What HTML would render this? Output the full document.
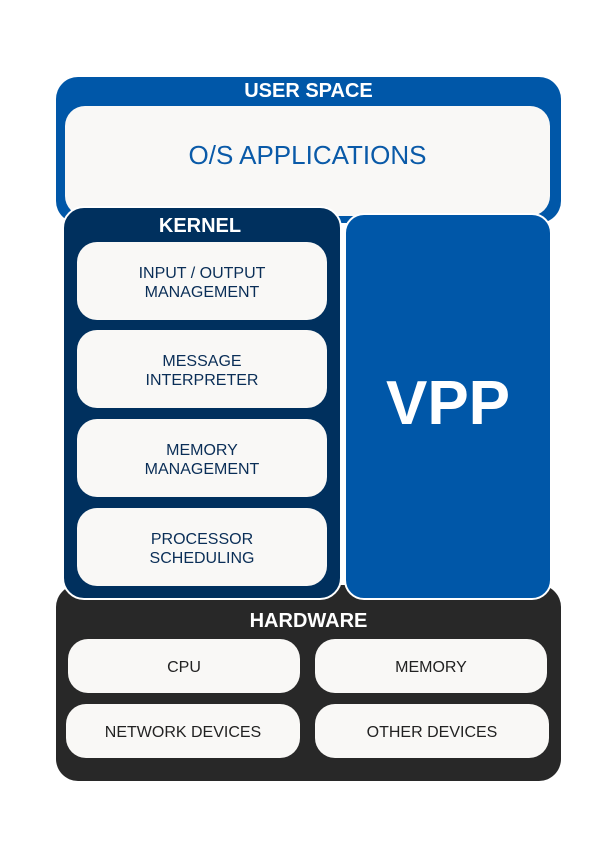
<!DOCTYPE html>
<html><head><style>
body{margin:0;width:600px;height:857px;background:#fff;position:relative;font-family:"Liberation Sans",sans-serif;overflow:hidden}
div{position:absolute;box-sizing:border-box}
.w{background:#f9f8f6;border-radius:20px;display:flex;align-items:center;justify-content:center;text-align:center}
.k{color:#0a2e57;font-size:16px;line-height:19px;left:77px;width:250px;height:78px;padding-top:3px}
.h{color:#222;font-size:16px;height:54px;padding-top:3px}
.lbl{color:#fff;font-weight:bold;font-size:20px;text-align:center}
</style></head><body>
<div style="left:56px;top:77px;width:505px;height:146px;background:#0057a8;border-radius:22px"></div>
<div class="lbl" style="left:56px;top:80px;width:505px">USER SPACE</div>
<div class="w" style="left:65px;top:106px;width:485px;height:110px;color:#0a5aa8;font-size:26px;padding-bottom:12px">O/S APPLICATIONS</div>
<div style="left:56px;top:585px;width:505px;height:196px;background:#282828;border-radius:22px"></div>
<div class="lbl" style="left:56px;top:610px;width:505px">HARDWARE</div>
<div class="w h" style="left:68px;top:639px;width:232px">CPU</div>
<div class="w h" style="left:315px;top:639px;width:232px">MEMORY</div>
<div class="w h" style="left:66px;top:704px;width:234px">NETWORK DEVICES</div>
<div class="w h" style="left:315px;top:704px;width:234px">OTHER DEVICES</div>
<div style="left:62px;top:206px;width:280px;height:394px;background:#00305e;border:2px solid #fff;border-radius:22px"></div>
<div class="lbl" style="left:62px;top:215px;width:276px">KERNEL</div>
<div class="w k" style="top:242px">INPUT / OUTPUT<br>MANAGEMENT</div>
<div class="w k" style="top:330px">MESSAGE<br>INTERPRETER</div>
<div class="w k" style="top:419px">MEMORY<br>MANAGEMENT</div>
<div class="w k" style="top:508px">PROCESSOR<br>SCHEDULING</div>
<div style="left:344px;top:213px;width:208px;height:387px;background:#0057a8;border:2px solid #fff;border-radius:20px;display:flex;align-items:center;justify-content:center;color:#fff;font-weight:bold;font-size:62px;padding-bottom:6px">VPP</div>
</body></html>
